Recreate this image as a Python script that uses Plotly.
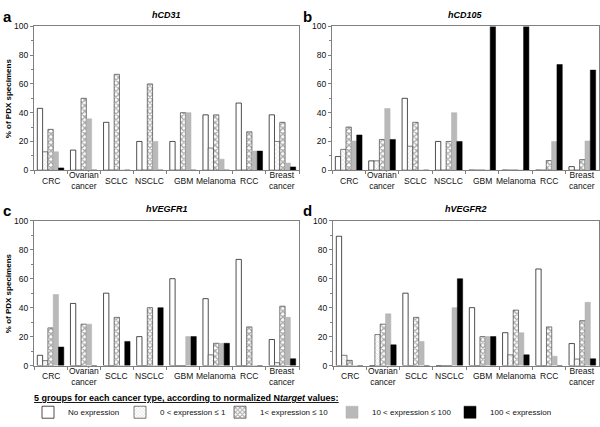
import plotly.graph_objects as go

W, H = 600, 427

categories = ["CRC", "Ovarian<br>cancer", "SCLC", "NSCLC", "GBM", "Melanoma", "RCC", "Breast<br>cancer"]
groups = ["No expression", "0 < expression ≤ 1", "1< expression ≤ 10",
          "10 < expression ≤ 100", "100 < expression"]
y_ticks = [0, 20, 40, 60, 80, 100]

# panel a: hCD31
cd31_none = [43, 14, 33.3, 20, 20, 38.5, 46.7, 38.5]
cd31_le1 = [12.8, 0, 0, 0, 0, 15.4, 0, 20]
cd31_le10 = [28.4, 50, 66.7, 60, 40, 38.5, 26.7, 33.3]
cd31_le100 = [12.8, 35.7, 0, 20, 40, 7.7, 13.3, 5]
cd31_gt100 = [1.6, 0, 0, 0, 0, 0, 13.3, 2.3]

# panel b: hCD105
cd105_none = [9.5, 6.5, 50, 20, 0, 0, 0, 2.5]
cd105_le1 = [14.5, 6.5, 16.7, 0, 0, 0, 0, 0]
cd105_le10 = [30, 21.4, 33.3, 20, 0, 0, 6.7, 7.4]
cd105_le100 = [20.3, 42.9, 0, 40, 0, 0, 20, 20.3]
cd105_gt100 = [24.5, 21.4, 0, 20, 100, 100, 73.5, 69.6]

# panel c: hVEGFR1
vr1_none = [7.1, 42.9, 50, 20, 60, 46.2, 73.3, 18]
vr1_le1 = [3.4, 0, 0, 0, 0, 7.4, 0, 2]
vr1_le10 = [26, 28.6, 33.3, 40, 0, 15.4, 26.7, 41]
vr1_le100 = [49, 28.6, 0, 0, 20, 15.4, 0, 33.3]
vr1_gt100 = [12.8, 0, 16.7, 40, 20, 15.4, 0, 4.7]

# panel d: hVEGFR2
vr2_none = [89.3, 0, 50, 0, 40, 22.7, 66.7, 15.2]
vr2_le1 = [7.1, 21.4, 0, 0, 0, 7.4, 0, 4.5]
vr2_le10 = [3.6, 28.6, 33.3, 0, 20, 38.3, 26.7, 31]
vr2_le100 = [0, 35.7, 16.7, 40, 20, 22.7, 6.5, 43.7]
vr2_gt100 = [0, 14.3, 0, 60, 20, 7.4, 0, 4.7]

panels = [
    ("hCD31", "a", [cd31_none, cd31_le1, cd31_le10, cd31_le100, cd31_gt100]),
    ("hCD105", "b", [cd105_none, cd105_le1, cd105_le10, cd105_le100, cd105_gt100]),
    ("hVEGFR1", "c", [vr1_none, vr1_le1, vr1_le10, vr1_le100, vr1_gt100]),
    ("hVEGFR2", "d", [vr2_none, vr2_le1, vr2_le10, vr2_le100, vr2_gt100]),
]

# pixel boxes (left, right, top, bottom)
boxes = [(34, 299, 22, 170), (332, 599, 22, 170), (34, 299, 222, 371), (333, 599, 222, 371)]
# legend swatch centres (px)
legend_x = [48, 140, 240, 352, 470]

styles = [
    dict(color="white", line=dict(color="#222", width=0.8)),
    dict(color="white", line=dict(color="#444", width=0.7),
         pattern=dict(shape="x", fgcolor="#aaa", bgcolor="white", size=3, solidity=0.3)),
    dict(color="white", line=dict(color="#444", width=0.7),
         pattern=dict(shape="x", fgcolor="#555", bgcolor="white", size=4, solidity=0.55)),
    dict(color="#b9b9b9", line=dict(color="#b0b0b0", width=0.5)),
    dict(color="black", line=dict(color="black", width=0.5)),
]

FONT = "Liberation Sans, Arial, sans-serif"
fig = go.Figure()
annotations = []

for i, (title, letter, series) in enumerate(panels):
    n = "" if i == 0 else str(i + 1)
    xa, ya = "x" + n, "y" + n
    for g, (name, vals) in enumerate(zip(groups, series)):
        lg = "legend" if g == 0 else "legend" + str(g + 1)
        fig.add_trace(go.Bar(
            x=categories, y=vals, name=name, xaxis=xa, yaxis=ya,
            marker=styles[g], showlegend=(i == 0), legendgroup=name, legend=lg,
        ))
    l, r, t, b = boxes[i]
    axkw = dict(showline=True, linecolor="#808080", linewidth=1, mirror=True)
    fig.layout["xaxis" + n] = dict(
        domain=[l / W, r / W], anchor=ya, type="category", showticklabels=False,
        ticks="outside", ticklen=3, tickcolor="#808080", tickson="boundaries",
        showgrid=False, fixedrange=True, **axkw)
    fig.layout["yaxis" + n] = dict(
        domain=[1 - b / H, 1 - t / H], anchor=xa, range=[0, 100], tickvals=y_ticks,
        ticks="outside", ticklen=3, tickcolor="#808080", showgrid=False, zeroline=False,
        tickfont=dict(size=8.5, color="#111", family=FONT), fixedrange=True,
        minor=dict(dtick=10, ticks="outside", ticklen=2, tickcolor="#808080"), **axkw)
    for c in categories:
        annotations.append(dict(
            x=c, xref=xa, y=1 - (b + 11) / H, yref="paper", text=c, showarrow=False,
            xanchor="center", yanchor="middle", align="center",
            font=dict(size=8.5, color="#111", family=FONT)))
    annotations.append(dict(
        x=(l + r) / 2 / W, y=1 - (t - 12) / H, xref="paper", yref="paper",
        text="<b><i>" + title + "</i></b>", showarrow=False, xanchor="center",
        yanchor="middle", font=dict(size=9, color="black", family=FONT)))
    annotations.append(dict(
        x=(1 if i % 2 == 0 else 301) / W, y=1 - (t - 21) / H, xref="paper", yref="paper",
        text="<b>" + letter + "</b>", showarrow=False, xanchor="left", yanchor="top",
        font=dict(size=15, color="black", family=FONT)))
    if i % 2 == 0:
        annotations.append(dict(
            x=8 / W, y=1 - (t + b) / 2 / H, xref="paper", yref="paper",
            text="<b>% of PDX specimens</b>", showarrow=False, textangle=-90,
            xanchor="center", yanchor="middle",
            font=dict(size=8, color="black", family=FONT)))

annotations.append(dict(
    x=32 / W, y=1 - 404 / H, xref="paper", yref="paper", showarrow=False,
    xanchor="left", yanchor="middle",
    text="<b><u>5 groups for each cancer type, according to normalized N<i>target</i> values:</u></b>",
    font=dict(size=9, color="black", family=FONT)))

layout_legends = {}
for g in range(5):
    key = "legend" if g == 0 else "legend" + str(g + 1)
    layout_legends[key] = dict(
        x=(legend_x[g] - 20) / W, xanchor="left", y=1 - 419 / H, yanchor="middle",
        orientation="h", font=dict(size=8, family=FONT, color="#111"),
        itemwidth=30, bgcolor="rgba(0,0,0,0)", borderwidth=0,
    )

fig.update_layout(
    width=W, height=H, margin=dict(l=0, r=0, t=0, b=0),
    paper_bgcolor="white", plot_bgcolor="white",
    barmode="group", bargap=0.2, bargroupgap=0,
    annotations=annotations,
    font=dict(family=FONT, size=8.5, color="#111"),
    **layout_legends,
)

fig.write_html("out.html", config={"displayModeBar": False},
               post_script="document.body.style.margin='0px';document.body.style.overflow='hidden';")
